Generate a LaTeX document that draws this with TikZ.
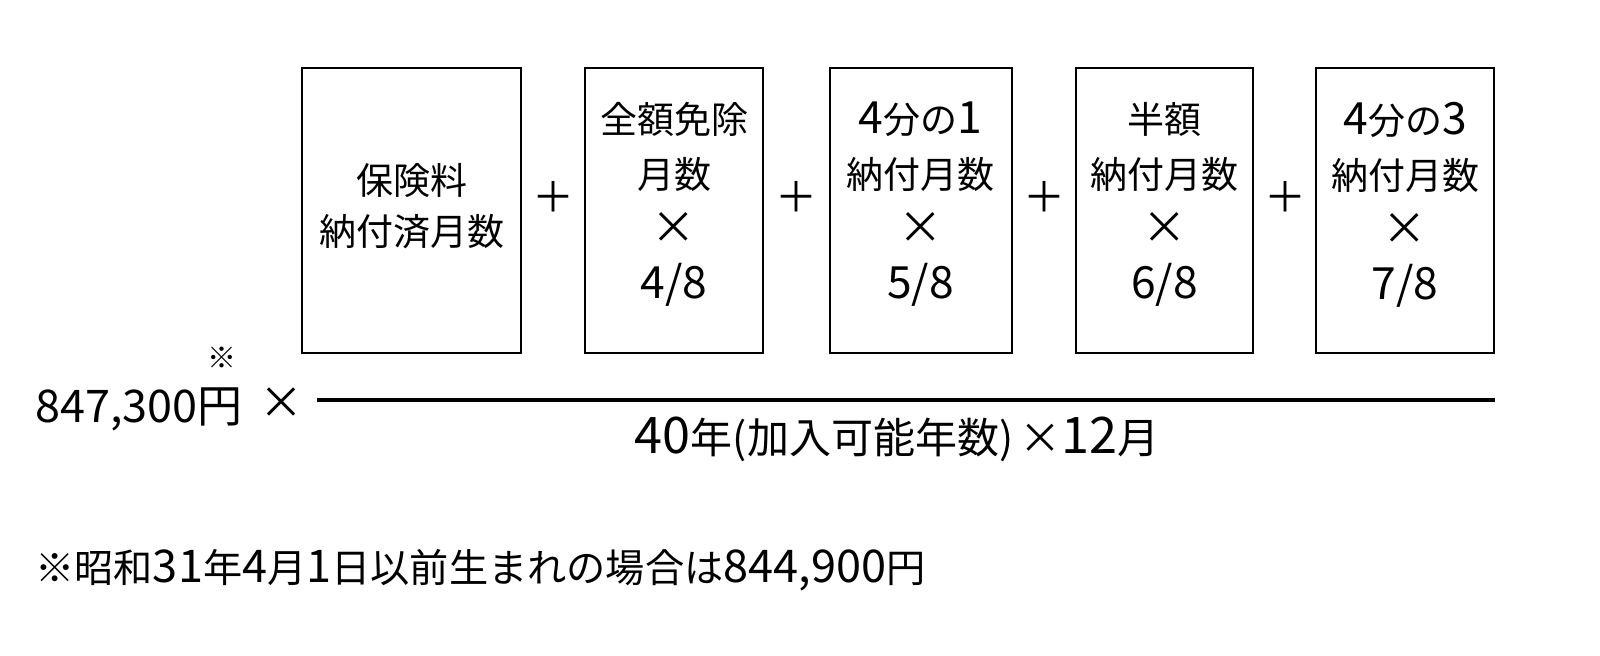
\documentclass[tikz,border=0pt]{standalone}
\usepackage{fontspec}
\setmainfont{Noto Sans CJK JP}
\newfontfamily\dg{Noto Sans CJK JP}[Scale=1.2]
\newfontfamily\dgs{Noto Sans CJK JP}[Scale=1.15]
\begin{document}
\begin{tikzpicture}[x=0.5pt,y=-0.5pt,
  box/.style={draw, line width=1pt, inner sep=0pt, minimum height=142.5pt},
  boxtext/.style={inner sep=0pt, align=center, font=\fontsize{18.5}{27.5}\selectfont},
  opsign/.style={inner sep=0pt, font=\fontsize{21}{21}\selectfont},
  bigtext/.style={inner sep=0pt, font=\fontsize{22.5}{22.5}\selectfont},
  midtext/.style={inner sep=0pt, font=\fontsize{20}{20}\selectfont}]
\useasboundingbox (0,0) rectangle (1600,655);
% boxes
\node[box, minimum width=109.5pt] (b1) at (411.5,210.5) {};
\node[box, minimum width=89pt] (b2) at (674,210.5) {};
\node[box, minimum width=91pt] (b3) at (920.5,210.5) {};
\node[box, minimum width=88.5pt] (b4) at (1164.5,210.5) {};
\node[box, minimum width=89pt] (b5) at (1405,210.5) {};
% box texts
\node[boxtext, font=\fontsize{18.5}{25.5}\selectfont] (t1) at ([yshift=2pt]b1.center) {保険料\\納付済月数};
\node[boxtext] (t2) at ([yshift=3pt]b2.center) {全額免除\\月数\\{\dg ×}\\{\dg 4/8}};
\node[boxtext] (t3) at ([yshift=3pt]b3.center) {{\dg 4}分の{\dg 1}\\納付月数\\{\dg ×}\\{\dg 5/8}};
\node[boxtext] (t4) at ([yshift=3pt]b4.center) {半額\\納付月数\\{\dg ×}\\{\dg 6/8}};
\node[boxtext] (t5) at ([yshift=3pt]b5.center) {{\dg 4}分の{\dg 3}\\納付月数\\{\dg ×}\\{\dg 7/8}};
% plus signs
\node[opsign] (p1) at (553,197) {＋};
\node[opsign] (p2) at (796,197) {＋};
\node[opsign] (p3) at (1044,197) {＋};
\node[opsign] (p4) at (1285,197) {＋};
% fraction line
\coordinate (fl) at (317,400);
\coordinate (fr) at (1495,400);
\draw[line width=2pt] (fl) -- (fr);
% left factor
\node[bigtext, anchor=base west] (amt) at (35,422) {847,300円};
\node[inner sep=0pt, font=\fontsize{14.5}{14.5}\selectfont] (ast) at (222,358) {※};
\node[inner sep=0pt, font=\fontsize{22}{22}\selectfont] (times) at (281,403) {×};
% denominator
\node[midtext, font=\fontsize{21}{21}\selectfont, anchor=base] (den) at (897,453) {{\dg 40}年(加入可能年数)\hspace{3pt}×{\dg 12}月};
% footnote
\node[midtext, font=\fontsize{19.6}{19.6}\selectfont, anchor=base west] (note) at (35,582) {※昭和{\dgs 31}年{\dgs 4}月{\dgs 1}日以前生まれの場合は{\dgs 844,900}円};
\end{tikzpicture}
\end{document}
